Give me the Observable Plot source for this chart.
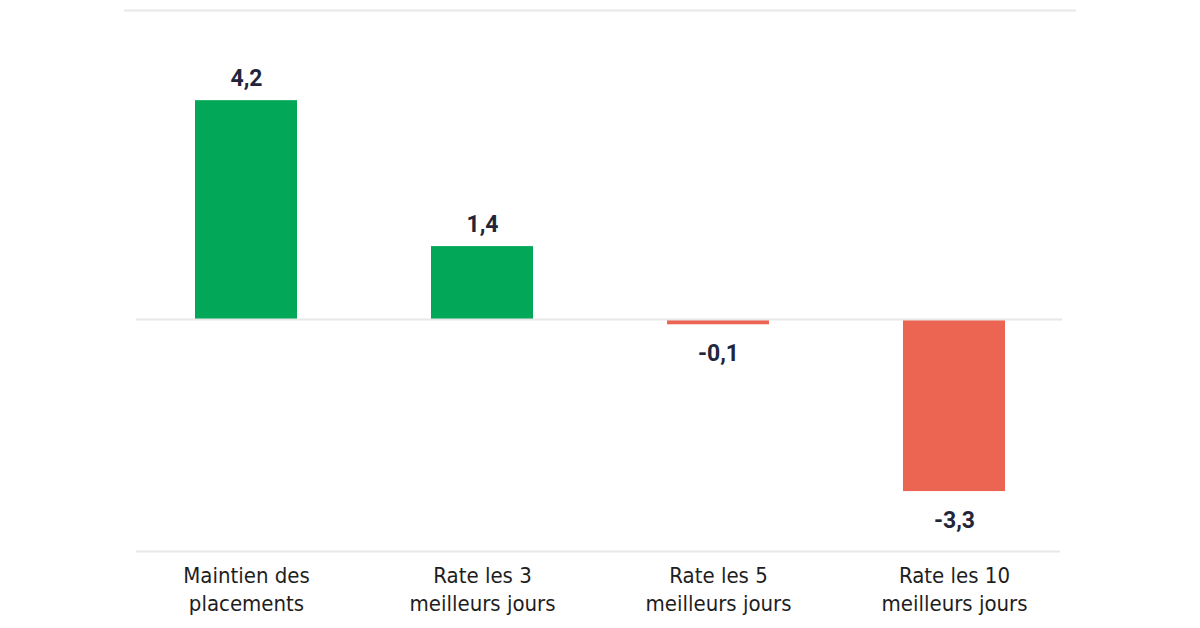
<!DOCTYPE html>
<html>
<head>
<meta charset="utf-8">
<script src="https://cdn.jsdelivr.net/npm/d3@7"></script>
<script src="https://cdn.jsdelivr.net/npm/@observablehq/plot@0.6"></script>
<style>
  html, body { margin: 0; padding: 0; background: #ffffff; }
  #chart { width: 1200px; height: 628px; }
</style>
</head>
<body>
<div id="chart"></div>
<script>
const categories = ["Maintien des placements", "Rate les 3 meilleurs jours", "Rate les 5 meilleurs jours", "Rate les 10 meilleurs jours"];
const tickLabels = ["Maintien des\nplacements", "Rate les 3\nmeilleurs jours", "Rate les 5\nmeilleurs jours", "Rate les 10\nmeilleurs jours"];
const values = [4.2, 1.4, -0.1, -3.3];

const data = categories.map((c, i) => ({category: c, value: values[i]}));
const fmt = v => d3.format(".1f")(v).replace(".", ",").replace("−", "-");
const green = "#02a757";
const red = "#ec6553";
const lineColor = "#e8e8e8";
const labelColor = "#23263a";

const chart = Plot.plot({
  width: 1200,
  height: 628,
  marginTop: 10,
  marginBottom: 77,
  marginLeft: 124,
  marginRight: 124,
  style: {background: "#ffffff"},
  x: {domain: categories, paddingInner: 0.568, paddingOuter: 0.3, label: null},
  y: {domain: [-4.45, 5.93], axis: null},
  marks: [
    Plot.ruleY([5.93], {stroke: lineColor, strokeWidth: 2}),
    Plot.ruleY([-4.45], {stroke: lineColor, strokeWidth: 2, insetLeft: 12, insetRight: 16}),
    Plot.barY(data, {x: "category", y: "value", fill: d => d.value >= 0 ? green : red}),
    Plot.ruleY([0], {stroke: lineColor, strokeWidth: 2, insetLeft: 12, insetRight: 14}),
    Plot.text(data.filter(d => d.value >= 0), {x: "category", y: "value", text: d => fmt(d.value), dy: -22, fill: labelColor, fontSize: 23, fontWeight: "bold", fontFamily: "Roboto, sans-serif"}),
    Plot.text(data.filter(d => d.value < 0), {x: "category", y: "value", text: d => fmt(d.value), dy: 29, fill: labelColor, fontSize: 23, fontWeight: "bold", fontFamily: "Roboto, sans-serif"}),
    Plot.axisX({tickSize: 0, tickPadding: 11, tickFormat: (d, i) => tickLabels[categories.indexOf(d)], fontSize: 22, fill: "#1e1e1e", fontFamily: "'Liberation Sans Narrow', 'DejaVu Sans Condensed', sans-serif", lineHeight: 1.3, label: null})
  ]
});
document.getElementById("chart").appendChild(chart);
</script>
</body>
</html>
